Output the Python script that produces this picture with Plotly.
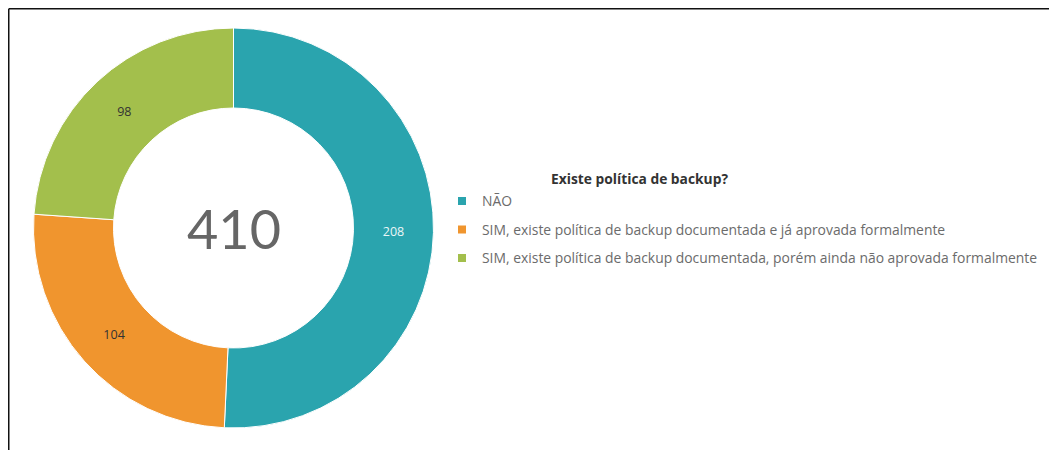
import plotly.graph_objects as go

categories = [
    "NÃO",
    "SIM, existe política de backup documentada e já aprovada formalmente",
    "SIM, existe política de backup documentada, porém ainda não aprovada formalmente",
]
values = [208, 104, 98]
colors = ["#2aa4ae", "#f0952e", "#a3bf4c"]
label_colors = ["#eaf6f7", "#333333", "#333333"]
total_label = str(sum(values))
legend_title = "Existe política de backup?"

W, H = 1057, 450
OFF = 8  # page body margin: figure coords = page coords - OFF
FONT = "Open Sans"


def px(x):
    return (x - OFF) / W


def py(y):
    return (H - (y - OFF)) / H


fig = go.Figure()

cx, cy, r = 233.5, 228, 200
fig.add_trace(go.Pie(
    labels=categories,
    values=values,
    hole=0.6,
    sort=False,
    direction="clockwise",
    rotation=0,
    marker=dict(colors=colors, line=dict(color="white", width=1)),
    textinfo="value",
    textposition="inside",
    insidetextorientation="horizontal",
    textfont=dict(family=FONT, size=12.5, color=label_colors),
    showlegend=False,
    domain=dict(x=[px(cx - r), px(cx + r)], y=[py(cy + r), py(cy - r)]),
))

# legend entries (one per category, so the spacing between them can be set)
for cat, col in zip(categories, colors):
    fig.add_trace(go.Scatter(
        x=[None], y=[None], mode="markers",
        marker=dict(symbol="square", size=8, color=col),
        name=cat, legendgroup=cat, showlegend=True, hoverinfo="skip",
    ))

fig.update_layout(
    width=W, height=H,
    margin=dict(l=0, r=0, t=0, b=0),
    paper_bgcolor="white",
    plot_bgcolor="white",
    xaxis=dict(visible=False),
    yaxis=dict(visible=False),
    legend=dict(
        x=px(442), xanchor="left",
        y=py(185.5), yanchor="top",
        font=dict(family=FONT, size=13.9, color="#6b6b6b"),
        tracegroupgap=7.4,
        bgcolor="rgba(0,0,0,0)",
        borderwidth=0,
        itemclick=False,
    ),
    annotations=[
        dict(text=total_label, x=px(cx), y=py(cy), xref="paper", yref="paper",
             showarrow=False, xanchor="center", yanchor="middle",
             font=dict(family="Lato", size=54, color="#666666")),
        dict(text="<b>" + legend_title + "</b>", x=px(639), y=py(178),
             xref="paper", yref="paper", showarrow=False,
             xanchor="center", yanchor="middle",
             font=dict(family=FONT, size=13.8, color="#333333")),
    ],
    shapes=[
        dict(type="line", xref="paper", yref="paper", x0=0.75 / W, x1=1,
             y0=(H - 0.75) / H, y1=(H - 0.75) / H,
             line=dict(color="#111111", width=1.5)),
        dict(type="line", xref="paper", yref="paper", x0=0.75 / W, x1=0.75 / W,
             y0=0, y1=(H - 0.75) / H,
             line=dict(color="#111111", width=1.5)),
    ],
)

fig.write_html("out.html")
